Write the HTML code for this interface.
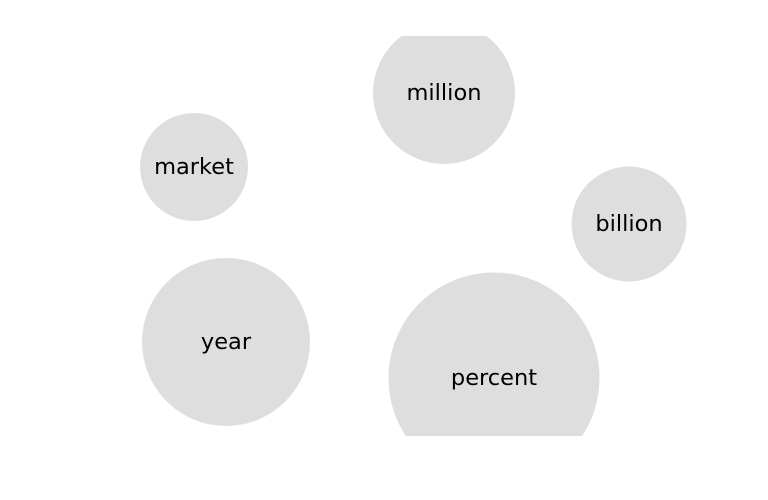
<!DOCTYPE html>
<html><head><meta charset="utf-8"><style>
html,body{margin:0;padding:0;background:#fff;}
svg{display:block;}
text{font-family:"DejaVu Sans","Liberation Sans",sans-serif;font-size:22.5px;fill:#000;}
</style></head><body>
<svg id="chart" width="768" height="500">
<defs><clipPath id="clip"><rect x="0" y="36" width="768" height="400"/></clipPath></defs>
<g id="bubbles" clip-path="url(#clip)"></g>
</svg>
<script>
const words = ["million","market","billion","year","percent"];
const xs = [444,194,629,226,494];
const ys = [93,167,224,342,378];
const radii = [71,54,57.5,84,105.5];
const ns="http://www.w3.org/2000/svg";
const g=document.getElementById('bubbles');
words.forEach((w,i)=>{
  const grp=document.createElementNS(ns,'g');
  
  
  const c=document.createElementNS(ns,'circle');
  c.setAttribute('cx',xs[i]);c.setAttribute('cy',ys[i]);c.setAttribute('r',radii[i]);
  c.setAttribute('fill','#dedede');
  
  
  const t=document.createElementNS(ns,'text');
  t.setAttribute('x',xs[i]);t.setAttribute('y',ys[i]+7);
  t.setAttribute('text-anchor','middle');
  t.textContent=w;
  
  
  grp.appendChild(c);grp.appendChild(t);g.appendChild(grp);
});
</script>
</body></html>
